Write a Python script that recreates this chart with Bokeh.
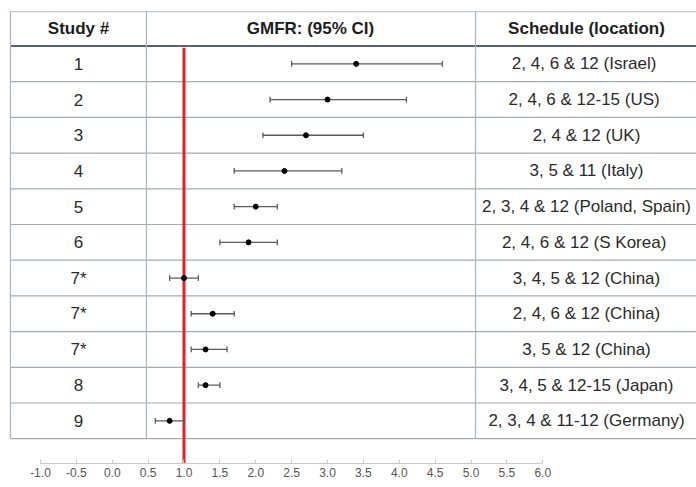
from bokeh.plotting import figure
from bokeh.models import Range1d, LinearAxis, FixedTicker, PrintfTickFormatter, ColumnDataSource
from bokeh.core.properties import value
from bokeh.embed import file_html
from bokeh.resources import INLINE

# ---- data ----
study = ["1", "2", "3", "4", "5", "6", "7*", "7*", "7*", "8", "9"]
gmfr = [3.4, 3.0, 2.7, 2.4, 2.0, 1.9, 1.0, 1.4, 1.3, 1.3, 0.8]
ci_low = [2.5, 2.2, 2.1, 1.7, 1.7, 1.5, 0.8, 1.1, 1.1, 1.2, 0.6]
ci_high = [4.6, 4.1, 3.5, 3.2, 2.3, 2.3, 1.2, 1.7, 1.6, 1.5, 1.0]
schedule = [
    "2, 4, 6 & 12  (Israel)",
    "2, 4, 6 & 12-15  (US)",
    "2, 4 & 12 (UK)",
    "3, 5 & 11 (Italy)",
    "2, 3, 4 & 12 (Poland, Spain)",
    "2, 4, 6 & 12  (S Korea)",
    "3, 4, 5 & 12 (China)",
    "2, 4, 6 & 12 (China)",
    "3, 5 & 12 (China)",
    "3, 4, 5 & 12-15 (Japan)",
    "2, 3, 4 & 11-12 (Germany)",
]
headers = ["Study #", "GMFR: (95% CI)", "Schedule (location)"]
tick_values = [-1.0, -0.5, 0.0, 0.5, 1.0, 1.5, 2.0, 2.5, 3.0, 3.5, 4.0, 4.5, 5.0, 5.5, 6.0]
reference_value = 1.0

n = len(study)
rows = [i + 0.5 for i in range(n)]

# ---- layout (data units) ----
X_LEFT, X_RIGHT = -1.557, 8.142
Y_BOTTOM, Y_TOP = 11.695, -1.275
TABLE_LEFT = -1.418
COL1 = 0.477
COL2 = 5.062
TABLE_TOP = -0.966
COL_CENTERS = [-0.47, 2.763, 6.609]
HEADER_Y = -0.48

p = figure(width=696, height=485, output_backend="svg", toolbar_location=None,
           x_axis_type=None, y_axis_type=None,
           x_range=Range1d(X_LEFT, X_RIGHT), y_range=Range1d(Y_BOTTOM, Y_TOP),
           min_border_left=0, min_border_right=0, min_border_top=0, min_border_bottom=22)
p.outline_line_color = None
p.background_fill_color = "white"
p.border_fill_color = "white"

# table horizontal lines
row_lines = list(range(1, n + 1))
p.segment(x0=[TABLE_LEFT] * len(row_lines), x1=[X_RIGHT] * len(row_lines),
          y0=row_lines, y1=row_lines, line_color="#a3abb6", line_width=1.2)
p.segment(x0=[TABLE_LEFT], x1=[X_RIGHT], y0=[TABLE_TOP], y1=[TABLE_TOP],
          line_color="#c3cad3", line_width=1.2)
p.segment(x0=[TABLE_LEFT], x1=[X_RIGHT], y0=[0], y1=[0],
          line_color="#55637a", line_width=2)
# vertical lines
p.segment(x0=[TABLE_LEFT, COL1, COL2], x1=[TABLE_LEFT, COL1, COL2],
          y0=[TABLE_TOP] * 3, y1=[n] * 3, line_color="#aab3c4", line_width=1.2)

# header text
p.text(x=COL_CENTERS, y=[HEADER_Y] * 3, text=headers, text_align="center",
       text_baseline="middle", text_font=value("Liberation Sans"),
       text_font_size="17px", text_font_style="bold", text_color="#1e1e1e")

# body text
p.text(x=[COL_CENTERS[0]] * n, y=rows, text=study, text_align="center",
       text_baseline="middle", text_font=value("Liberation Sans"),
       text_font_size="17px", text_color="#2a2a2a")
p.text(x=[COL_CENTERS[2]] * n, y=rows, text=schedule, text_align="center",
       text_baseline="middle", text_font=value("Liberation Sans"),
       text_font_size="17px", text_color="#2a2a2a")

# reference line
p.segment(x0=[reference_value], x1=[reference_value], y0=[0.05], y1=[Y_BOTTOM],
          line_color="#e0202c", line_width=3)

# forest plot
src = ColumnDataSource(dict(y=rows, g=gmfr, lo=ci_low, hi=ci_high,
                            ya=[r - 0.08 for r in rows], yb=[r + 0.08 for r in rows]))
p.segment(x0="lo", x1="hi", y0="y", y1="y", source=src, line_color="#5a5a5a", line_width=1.3)
p.segment(x0="lo", x1="lo", y0="ya", y1="yb", source=src, line_color="#5a5a5a", line_width=1.3)
p.segment(x0="hi", x1="hi", y0="ya", y1="yb", source=src, line_color="#5a5a5a", line_width=1.3)
p.scatter(x="g", y="y", source=src, size=5, color="black")

# axis
ax = LinearAxis(ticker=FixedTicker(ticks=tick_values),
                formatter=PrintfTickFormatter(format="%.1f"), bounds=(-1, 6))
ax.axis_line_color = "#c8c8c8"
ax.major_tick_line_color = "#c8c8c8"
ax.major_tick_in = 4
ax.major_tick_out = 0
ax.minor_tick_line_color = None
ax.major_label_text_font = "Liberation Sans"
ax.major_label_text_font_size = "12px"
ax.major_label_text_color = "#555555"
ax.major_label_standoff = 4
p.add_layout(ax, "below")

open("out.html", "w").write(file_html(p, INLINE))
